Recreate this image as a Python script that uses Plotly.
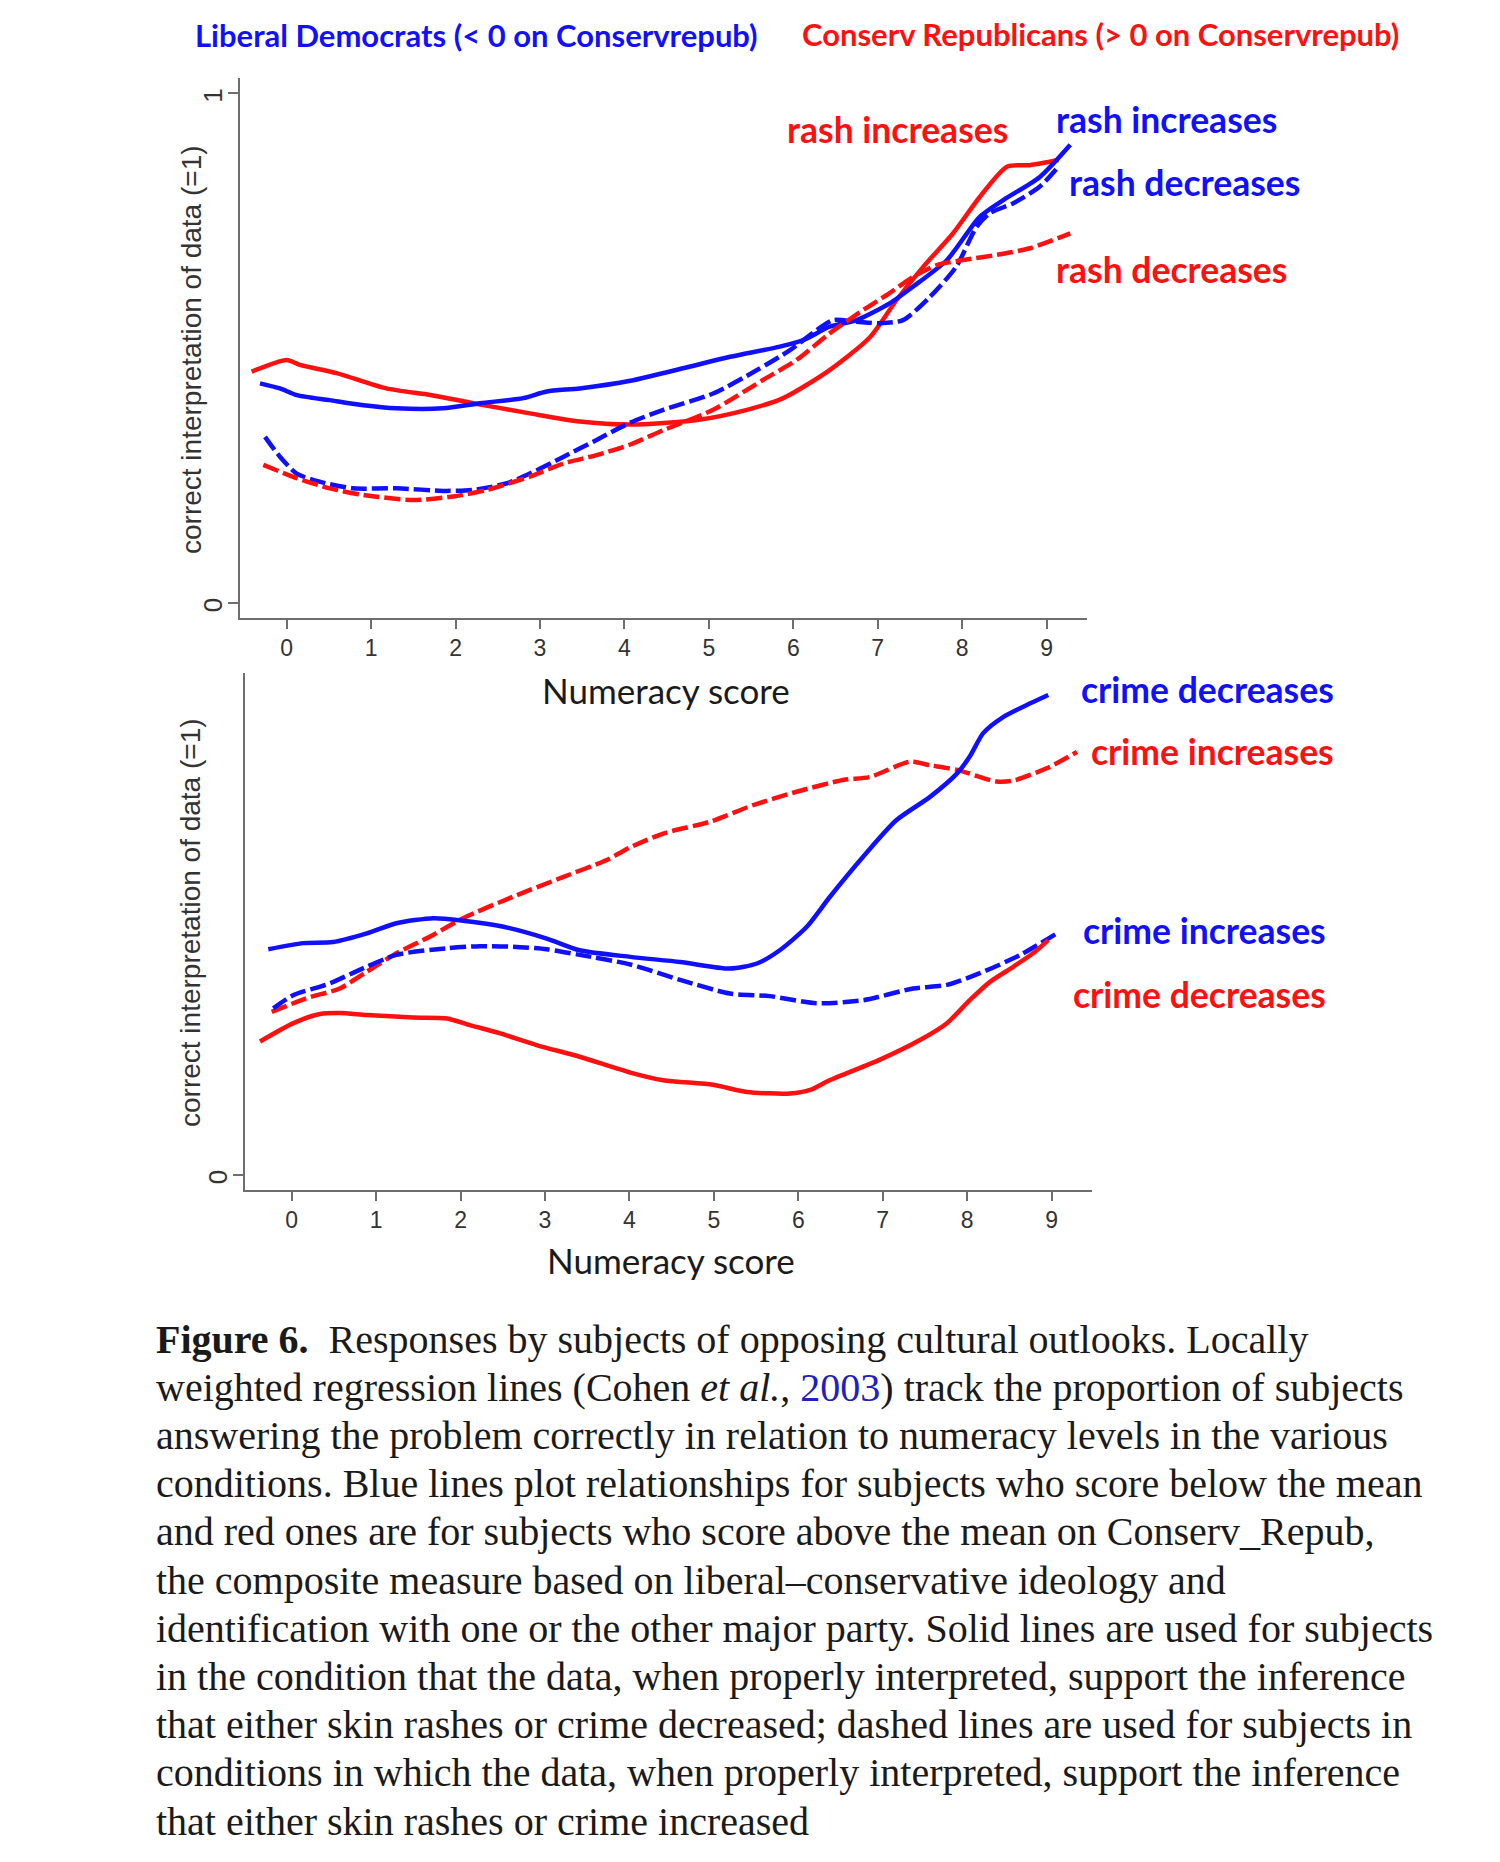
import plotly.graph_objects as go

W, H = 1500, 1862
RED = "#ff1010"
BLUE = "#1010ff"

# ---------------- data (numeracy score vs proportion correct) ----------------
# Top panel: skin rash
rash_red_solid_x = [-0.415, 0.0, 0.157, 0.59, 1.18, 1.70, 2.21, 2.88, 3.47, 4.07, 4.86, 5.45, 5.88, 6.43, 6.91, 7.22, 7.54, 7.89, 8.21, 8.53, 8.80, 9.14]
rash_red_solid_y = [0.454, 0.477, 0.467, 0.451, 0.421, 0.408, 0.392, 0.372, 0.356, 0.350, 0.359, 0.379, 0.402, 0.457, 0.522, 0.594, 0.660, 0.725, 0.797, 0.856, 0.859, 0.869]

rash_blue_solid_x = [-0.316, -0.08, 0.118, 0.51, 0.91, 1.30, 1.85, 2.29, 2.80, 3.08, 3.47, 4.07, 4.78, 5.25, 5.84, 6.12, 6.43, 6.75, 7.14, 7.42, 7.82, 8.21, 8.49, 8.92, 9.28]
rash_blue_solid_y = [0.431, 0.421, 0.408, 0.398, 0.388, 0.382, 0.382, 0.392, 0.402, 0.415, 0.421, 0.436, 0.464, 0.483, 0.503, 0.516, 0.542, 0.555, 0.588, 0.621, 0.673, 0.758, 0.791, 0.836, 0.899]

rash_blue_dash_x = [-0.257, -0.08, 0.118, 0.39, 0.79, 1.30, 1.89, 2.21, 2.61, 2.88, 3.28, 3.67, 4.07, 4.46, 5.05, 5.57, 5.96, 6.28, 6.47, 6.75, 7.03, 7.30, 7.62, 7.93, 8.17, 8.33, 8.60, 8.92, 9.14]
rash_blue_dash_y = [0.326, 0.287, 0.254, 0.238, 0.225, 0.225, 0.220, 0.222, 0.235, 0.254, 0.287, 0.320, 0.354, 0.379, 0.411, 0.457, 0.496, 0.536, 0.555, 0.552, 0.549, 0.555, 0.601, 0.660, 0.738, 0.765, 0.784, 0.817, 0.856]

rash_red_dash_x = [-0.277, 0.118, 0.51, 0.91, 1.50, 1.97, 2.37, 2.88, 3.28, 3.67, 4.07, 4.46, 5.05, 5.64, 6.04, 6.43, 6.83, 7.14, 7.42, 7.70, 8.01, 8.41, 8.80, 9.28]
rash_red_dash_y = [0.271, 0.245, 0.225, 0.212, 0.202, 0.209, 0.222, 0.248, 0.274, 0.290, 0.311, 0.339, 0.379, 0.4375, 0.477, 0.529, 0.575, 0.608, 0.640, 0.663, 0.673, 0.683, 0.696, 0.725]

# Bottom panel: crime
crime_blue_solid_x = [-0.277, 0.137, 0.49, 0.89, 1.24, 1.68, 2.03, 2.51, 3.02, 3.41, 4.01, 4.60, 5.19, 5.51, 5.78, 6.10, 6.37, 6.77, 7.16, 7.56, 7.88, 8.03, 8.19, 8.43, 8.74, 8.96]
crime_blue_solid_y = [0.443, 0.455, 0.457, 0.474, 0.494, 0.504, 0.499, 0.487, 0.464, 0.441, 0.428, 0.418, 0.405, 0.415, 0.441, 0.487, 0.545, 0.625, 0.696, 0.742, 0.788, 0.821, 0.867, 0.899, 0.925, 0.942]

crime_red_dash_x = [-0.237, 0.178, 0.57, 0.89, 1.24, 1.64, 2.03, 2.62, 3.22, 3.73, 4.01, 4.40, 4.95, 5.47, 5.98, 6.53, 6.85, 7.32, 7.56, 7.88, 8.35, 8.55, 8.94, 9.30]
crime_red_dash_y = [0.320, 0.347, 0.366, 0.399, 0.435, 0.468, 0.504, 0.546, 0.585, 0.618, 0.643, 0.670, 0.693, 0.726, 0.752, 0.775, 0.781, 0.811, 0.804, 0.795, 0.772, 0.774, 0.798, 0.830]

crime_blue_dash_x = [-0.218, 0.02, 0.45, 0.85, 1.24, 1.84, 2.23, 2.62, 3.02, 3.41, 4.01, 4.60, 5.19, 5.66, 6.22, 6.77, 7.36, 7.76, 8.15, 8.63, 9.06]
crime_blue_dash_y = [0.327, 0.353, 0.376, 0.406, 0.432, 0.445, 0.449, 0.448, 0.443, 0.432, 0.413, 0.383, 0.356, 0.351, 0.337, 0.343, 0.366, 0.373, 0.396, 0.432, 0.474]

crime_red_solid_x = [-0.375, 0.02, 0.335, 0.57, 0.89, 1.44, 1.84, 2.11, 2.47, 2.90, 3.41, 4.01, 4.40, 4.99, 5.39, 5.90, 6.14, 6.37, 6.96, 7.44, 7.76, 8.03, 8.27, 8.55, 8.78, 8.96]
crime_red_solid_y = [0.262, 0.298, 0.316, 0.318, 0.314, 0.309, 0.307, 0.294, 0.278, 0.255, 0.232, 0.201, 0.186, 0.177, 0.163, 0.160, 0.167, 0.186, 0.226, 0.265, 0.298, 0.343, 0.379, 0.409, 0.435, 0.461]

x_ticks = [0, 1, 2, 3, 4, 5, 6, 7, 8, 9]
y_ticks = [0, 1]

header_left = "Liberal Democrats (< 0 on Conservrepub)"
header_right = "Conserv Republicans (> 0 on Conservrepub)"
x_title = "Numeracy score"
y_title = "correct interpretation of data (=1)"

caption_lines = [
    "<b>Figure 6.</b>  Responses by subjects of opposing cultural outlooks. Locally",
    "weighted regression lines (Cohen <i>et al.</i>, <span style='color:#2020c0'>2003</span>) track the proportion of subjects",
    "answering the problem correctly in relation to numeracy levels in the various",
    "conditions. Blue lines plot relationships for subjects who score below the mean",
    "and red ones are for subjects who score above the mean on Conserv_Repub,",
    "the composite measure based on liberal\u2013conservative ideology and",
    "identification with one or the other major party. Solid lines are used for subjects",
    "in the condition that the data, when properly interpreted, support the inference",
    "that either skin rashes or crime decreased; dashed lines are used for subjects in",
    "conditions in which the data, when properly interpreted, support the inference",
    "that either skin rashes or crime increased",
]

# ---------------- figure ----------------
def px(x):
    return x / W

def py(y):
    return 1 - y / H

fig = go.Figure()
LW = 4.5
DASH = "16px,5px"

def add(x, y, color, dash, xa, ya):
    fig.add_trace(go.Scatter(
        x=x, y=y, mode="lines", xaxis=xa, yaxis=ya, showlegend=False,
        line=dict(color=color, width=LW, dash=dash, shape="spline", smoothing=0.7),
        hoverinfo="skip"))

add(rash_red_solid_x, rash_red_solid_y, RED, "solid", "x", "y")
add(rash_blue_solid_x, rash_blue_solid_y, BLUE, "solid", "x", "y")
add(rash_blue_dash_x, rash_blue_dash_y, BLUE, DASH, "x", "y")
add(rash_red_dash_x, rash_red_dash_y, RED, DASH, "x", "y")

add(crime_red_dash_x, crime_red_dash_y, RED, DASH, "x2", "y2")
add(crime_blue_dash_x, crime_blue_dash_y, BLUE, DASH, "x2", "y2")
add(crime_red_solid_x, crime_red_solid_y, RED, "solid", "x2", "y2")
add(crime_blue_solid_x, crime_blue_solid_y, BLUE, "solid", "x2", "y2")

AX_COLOR = "#6e6e6e"
tickfont = dict(family="Liberation Sans, Arial", size=23, color="#333333")

xcommon = dict(tickmode="array", tickvals=x_ticks, ticks="outside", ticklen=9, tickwidth=2,
               tickcolor=AX_COLOR, showline=True, linecolor=AX_COLOR, linewidth=2,
               showgrid=False, zeroline=False, tickfont=tickfont, ticklabelstandoff=-1)
ycommon = dict(tickmode="array", tickvals=y_ticks, ticks="outside", ticklen=10, tickwidth=2,
               tickcolor=AX_COLOR, showline=True, linecolor=AX_COLOR, linewidth=2,
               showgrid=False, zeroline=False, tickangle=-90,
               tickfont=dict(family="Liberation Sans, Arial", size=26, color="#333333"),
               ticklabelstandoff=-4, ticklabelshift=6)

fig.update_layout(
    width=W, height=H, margin=dict(l=0, r=0, t=0, b=0),
    paper_bgcolor="white", plot_bgcolor="white",
    xaxis=dict(domain=[px(240), px(1087)], range=[-0.553, 9.478], anchor="y", **xcommon),
    yaxis=dict(domain=[py(618), py(78)], range=[-0.0294, 1.030], anchor="x", **ycommon),
    xaxis2=dict(domain=[px(245), px(1092)], range=[-0.553, 9.478], anchor="y2", **xcommon),
    yaxis2=dict(domain=[py(1190), py(673)], range=[-0.0294, 0.985], anchor="x2", **ycommon),
)

LBL = "Lato, Open Sans, sans-serif"

def text(x, y, s, size, color, family=LBL, bold=False, anchor="center", angle=0):
    fig.add_annotation(x=px(x), y=py(y), xref="paper", yref="paper", text=(f"<b>{s}</b>" if bold else s),
                       showarrow=False, xanchor=anchor, yanchor="middle", textangle=angle,
                       font=dict(family=family, size=size, color=color))

# headers
text(476, 35, header_left, 31, BLUE, bold=True)
text(1100, 34, header_right, 31, RED, bold=True)

# curve labels
LS = 35.5
text(785, 130, "rash increases", LS, RED, bold=True, anchor="left")
text(1054, 119, "rash increases", LS, BLUE, bold=True, anchor="left")
text(1067, 182, "rash decreases", LS, BLUE, bold=True, anchor="left")
text(1054, 270, "rash decreases", LS, RED, bold=True, anchor="left")

text(1079, 689, "crime decreases", LS, BLUE, bold=True, anchor="left")
text(1089, 752, "crime increases", LS, RED, bold=True, anchor="left")
text(1081, 930, "crime increases", LS, BLUE, bold=True, anchor="left")
text(1071, 994, "crime decreases", LS, RED, bold=True, anchor="left")

# axis titles
text(666, 690, x_title, 35, "#1a1a1a")
text(671, 1260, x_title, 35, "#1a1a1a")
text(191, 350, y_title, 28, "#333333", family="Liberation Sans, Arial", angle=-90)
text(191, 923, y_title, 28, "#333333", family="Liberation Sans, Arial", angle=-90)

# caption
for i, line in enumerate(caption_lines):
    text(154, 1339 + i * 48.2, line, 40, "#1a1a1a", family="Liberation Serif, Times New Roman, serif", anchor="left")

fig.write_html("out.html", config={"displayModeBar": False},
               post_script="document.body.style.margin='0px';")
